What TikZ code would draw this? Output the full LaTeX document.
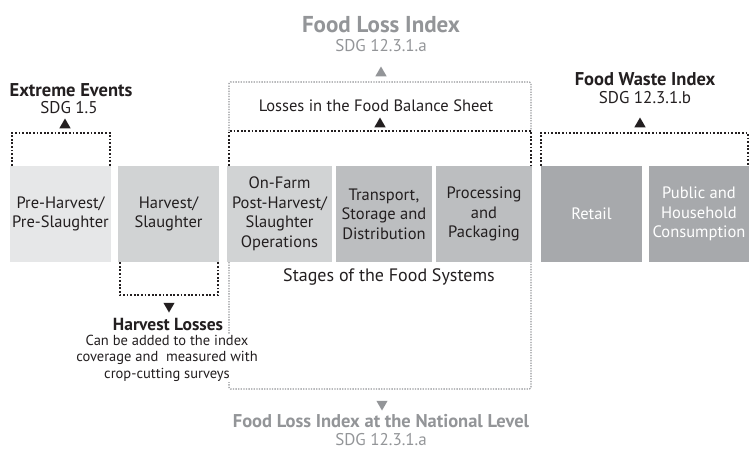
\documentclass[tikz,border=0pt]{standalone}
\usepackage{fontspec}
\setmainfont{PT Sans}
\usetikzlibrary{shapes.geometric}
\definecolor{stageA}{HTML}{E6E7E8}
\definecolor{stageB}{HTML}{D1D3D4}
\definecolor{stageC}{HTML}{BCBEC0}
\definecolor{stageD}{HTML}{A7A9AC}
\definecolor{fligrey}{HTML}{939598}
\definecolor{ink}{HTML}{231F20}
\tikzset{
  stage/.style={minimum height=96pt, inner sep=0pt, align=center, text=ink,
    font=\fontsize{16.5}{19.5}\selectfont},
  blackdots/.style={ink, line width=1.8pt, dash pattern=on 1.8pt off 1.8pt},
  greydots/.style={fligrey, line width=1.3pt, dash pattern=on 1.3pt off 1.3pt,
    rounded corners=1.5pt},
  headline/.style={font=\bfseries\fontsize{18.5}{21}\selectfont, inner sep=0pt, text=ink},
  subline/.style={font=\fontsize{17}{19}\selectfont, inner sep=0pt, text=ink},
  uptri/.style={regular polygon, regular polygon sides=3, fill=ink, inner sep=0pt,
    minimum size=13pt},
  downtri/.style={uptri, shape border rotate=180}
}

\begin{document}
\begin{tikzpicture}[x=1pt, y=-1pt]
      \useasboundingbox (0,0) rectangle (749,450);
      % stages
      \node[stage, fill=stageA, minimum width=101pt] (preharvest) at (60.5,214) {Pre-Harvest/\\Pre-Slaughter};
      \node[stage, fill=stageB, minimum width=101pt] (harvest) at (168.5,214) {Harvest/\\Slaughter};
      \node[stage, fill=stageB, minimum width=105pt] (onfarm) at (279.5,214) {On-Farm\\Post-Harvest/\\Slaughter\\Operations};
      \node[stage, fill=stageC, minimum width=96pt] (transport) at (384,214) {Transport,\\Storage and\\Distribution};
      \node[stage, fill=stageC, minimum width=96pt] (processing) at (484,214) {Processing\\and\\Packaging};
      \node[stage, fill=stageD, minimum width=101pt, text=white] (retail) at (591.5,214) {Retail};
      \node[stage, fill=stageD, minimum width=100pt, text=white] (household) at (699,214) {Public and\\Household\\Consumption};
      \node[subline, font=\fontsize{18}{20}\selectfont] (stages) at (389,277) {Stages of the Food Systems};
      % food loss index
      \draw[greydots] (229,131) |- (531,82) -- (531,131);
      \draw[greydots] (229,262) |- (531,389) -- (531,262);
      \node[headline, fligrey, font=\bfseries\fontsize{23}{26}\selectfont] (fli) at (381,25) {Food Loss Index};
      \node[subline, fligrey] (flisdg) at (381,46) {SDG 12.3.1.a};
      \node[uptri, fill=fligrey] (flitri) at (381,73) {};
      \node[downtri, fill=fligrey] (nattri) at (382,404) {};
      \node[headline, fligrey] (national) at (381,421) {Food Loss Index at the National Level};
      \node[subline, fligrey] (natsdg) at (381,440) {SDG 12.3.1.a};
      % extreme events
      \draw[blackdots] (preharvest.north west) ++(2,0) |- (62,133) -| ([xshift=-1pt]preharvest.north east);
      \node[uptri] (extri) at (65,125) {};
      \node[headline] (extreme) at (71,90) {Extreme Events};
      \node[subline] (exsdg) at (69,108) {SDG 1.5};
      % harvest losses
      \draw[blackdots] (harvest.south west) ++(2,0) |- (168,295) -| ([xshift=-1pt]harvest.south east);
      \node[downtri] (hltri) at (169,306) {};
      \node[headline, font=\bfseries\fontsize{17.5}{20}\selectfont, fill=white, inner sep=1pt] (hl) at (168,324) {Harvest Losses};
      \node[subline, align=center, font=\fontsize{14.5}{16.3}\selectfont, anchor=north, fill=white, inner sep=1pt] (hltext) at (167,334) {Can be added to the index\\coverage and\ \ measured with\\crop-cutting surveys};
      % food balance sheet
      \draw[blackdots] (onfarm.north west) ++(2,0) |- (380,131) -| ([xshift=-1pt]processing.north east);
      \node[uptri] (fbstri) at (380,124) {};
      \node[subline, font=\fontsize{16.5}{19}\selectfont] (fbs) at (376,106) {Losses in the Food Balance Sheet};
      % food waste index
      \draw[blackdots] (retail.north west) |- (645,133) -| ([xshift=-1pt]household.north east);
      \node[uptri] (fwtri) at (640,124) {};
      \node[headline] (fwi) at (645,79) {Food Waste Index};
      \node[subline] (fwsdg) at (645,98) {SDG 12.3.1.b};
\end{tikzpicture}
\end{document}
